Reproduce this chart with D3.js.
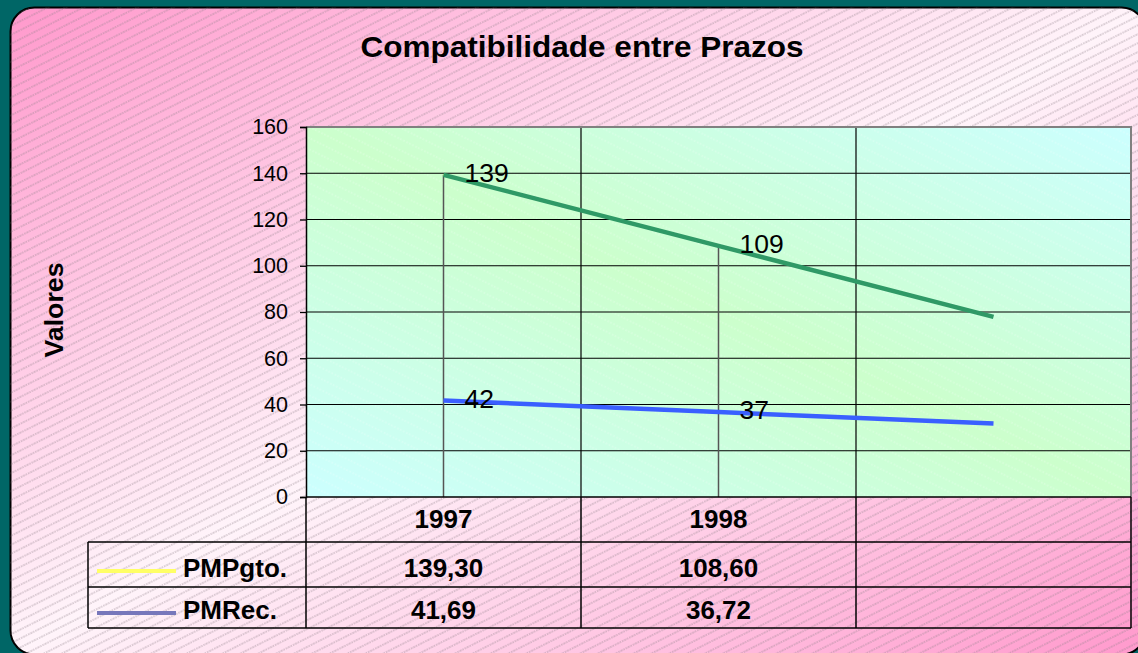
<!DOCTYPE html>
<html><head><meta charset="utf-8">
<script src="https://cdn.jsdelivr.net/npm/d3@7"></script>
<style>
html,body{margin:0;padding:0;background:#006666;}
svg{display:block;font-family:"Liberation Sans",Arial,sans-serif;}
</style></head>
<body>
<svg id="chart" width="1138" height="653"></svg>
<script>
const title = "Compatibilidade entre Prazos";
const yTitle = "Valores";
const categories = ["1997", "1998", ""];
const seriesNames = ["PMPgto.", "PMRec."];
const pmpgto = [139.30, 108.60];
const pmrec = [41.69, 36.72];
const pmpgtoText = ["139,30", "108,60"];
const pmrecText = ["41,69", "36,72"];
const pmpgtoLabels = ["139", "109"];
const pmrecLabels = ["42", "37"];
const yTicks = [0, 20, 40, 60, 80, 100, 120, 140, 160];

(function(){
const svg = d3.select("#chart");
const W = 1138, H = 653;
const defs = svg.append("defs");

const g1 = defs.append("linearGradient").attr("id","pinkGrad")
  .attr("x1",0).attr("y1",0).attr("x2",1).attr("y2",1);
g1.append("stop").attr("offset","0").attr("stop-color","#ff99cc");
g1.append("stop").attr("offset","0.5").attr("stop-color","#fff4fa");
g1.append("stop").attr("offset","1").attr("stop-color","#ff99cc");

const g2 = defs.append("linearGradient").attr("id","plotGrad")
  .attr("x1",0).attr("y1",1).attr("x2",1).attr("y2",0);
g2.append("stop").attr("offset","0").attr("stop-color","#ccffff");
g2.append("stop").attr("offset","0.5").attr("stop-color","#ccffcc");
g2.append("stop").attr("offset","1").attr("stop-color","#ccffff");

const hatch = defs.append("pattern").attr("id","hatch")
  .attr("patternUnits","userSpaceOnUse").attr("width",8).attr("height",8)
  .attr("patternTransform","rotate(-26.6)");
hatch.append("line").attr("x1",0).attr("x2",8).attr("y1",4).attr("y2",4)
  .attr("stroke","#8f8088").attr("stroke-width",0.7).attr("stroke-dasharray","1.5,1");

const hatch2 = defs.append("pattern").attr("id","hatch2")
  .attr("patternUnits","userSpaceOnUse").attr("width",10).attr("height",10)
  .attr("patternTransform","rotate(26.6)");
hatch2.append("line").attr("x1",0).attr("x2",10).attr("y1",5).attr("y2",5)
  .attr("stroke","#ffffff").attr("stroke-width",0.8).attr("stroke-dasharray","1.5,2").attr("opacity",0.5);

svg.append("rect").attr("width",W).attr("height",H).attr("fill","#006666");
svg.append("rect").attr("x",10.5).attr("y",7.5).attr("width",1135).attr("height",647)
  .attr("rx",24).attr("fill","url(#pinkGrad)").attr("stroke","#000").attr("stroke-width",2);
svg.append("rect").attr("x",10.5).attr("y",7.5).attr("width",1135).attr("height",647)
  .attr("rx",24).attr("fill","url(#hatch)");

const pLeft = 306, pRight = 1131, pTop = 127, pBottom = 497;
const x = d3.scaleBand().domain(categories).range([pLeft, pRight]).padding(0);
const cx = c => x(c) + x.bandwidth()/2;
const y = d3.scaleLinear().domain([0,160]).range([pBottom, pTop]);

svg.append("rect").attr("x",pLeft).attr("y",pTop).attr("width",pRight-pLeft).attr("height",pBottom-pTop)
  .attr("fill","url(#plotGrad)");
svg.append("rect").attr("x",pLeft).attr("y",pTop).attr("width",pRight-pLeft).attr("height",pBottom-pTop)
  .attr("fill","url(#hatch2)");

svg.append("g").selectAll("line").data(yTicks.filter(d=>d>0 && d<160)).join("line")
  .attr("x1",pLeft).attr("x2",pRight).attr("y1",d=>y(d)).attr("y2",d=>y(d))
  .attr("stroke","#000").attr("stroke-width",1.2);
svg.append("g").selectAll("line").data(categories.slice(1)).join("line")
  .attr("x1",d=>x(d)).attr("x2",d=>x(d)).attr("y1",pTop).attr("y2",pBottom)
  .attr("stroke","#000").attr("stroke-width",1.2);
svg.append("path").attr("d",`M${pLeft},${pTop}H${pRight}V${pBottom}`)
  .attr("fill","none").attr("stroke","#808080").attr("stroke-width",2);

const yAxis = d3.axisLeft(y).tickValues(yTicks).tickSize(6).tickPadding(12);
const ya = svg.append("g").attr("transform",`translate(${pLeft},0)`).call(yAxis);
ya.select(".domain").attr("stroke","#000").attr("stroke-width",1.5);
ya.selectAll(".tick line").attr("stroke","#000").attr("stroke-width",1.3);
ya.selectAll(".tick text").attr("font-size",21.5).attr("fill","#000")
  .attr("font-family","'Liberation Sans',Arial,sans-serif");

const maxVals = pmpgto.map((v,i)=>Math.max(v, pmrec[i]));
svg.append("g").selectAll("line").data(maxVals).join("line")
  .attr("x1",(d,i)=>cx(categories[i])).attr("x2",(d,i)=>cx(categories[i]))
  .attr("y1",d=>y(d)).attr("y2",pBottom)
  .attr("stroke","#555").attr("stroke-width",1.5);

const line = d3.line().x((d,i)=>cx(categories[i])).y(d=>y(d));
svg.append("path").datum(pmpgto).attr("d",line).attr("fill","none")
  .attr("stroke","#ffff66").attr("stroke-width",2.5);
svg.append("path").datum(pmrec).attr("d",line).attr("fill","none")
  .attr("stroke","#7777bb").attr("stroke-width",2.5);

function trend(vals, n) {
  const xs = vals.map((v,i)=>i+1);
  const mx = d3.mean(xs), my = d3.mean(vals);
  const b = d3.sum(xs.map((xx,i)=>(xx-mx)*(vals[i]-my))) / d3.sum(xs.map(xx=>(xx-mx)**2));
  const a = my - b*mx;
  return d3.range(n).map(i => a + b*(i+1));
}
svg.append("path").datum(trend(pmpgto, 3)).attr("d",line).attr("fill","none")
  .attr("stroke","#2f9966").attr("stroke-width",4.5);
svg.append("path").datum(trend(pmrec, 3)).attr("d",line).attr("fill","none")
  .attr("stroke","#3a5fff").attr("stroke-width",4.5);

function labels(vals, txt) {
  svg.append("g").selectAll("text").data(vals).join("text")
    .attr("x",(d,i)=>cx(categories[i])+21).attr("y",d=>y(d)+7)
    .attr("font-size",26.5).attr("fill","#000").text((d,i)=>txt[i]);
}
labels(pmpgto, pmpgtoLabels);
labels(pmrec, pmrecLabels);

svg.append("text").attr("x",582).attr("y",57).attr("text-anchor","middle")
  .attr("font-size",30).attr("font-weight","bold").attr("fill","#000")
  .attr("textLength",443).attr("lengthAdjust","spacingAndGlyphs").text(title);
svg.append("text").attr("transform","translate(63,310) rotate(-90)").attr("text-anchor","middle")
  .attr("font-size",26).attr("font-weight","bold").attr("fill","#000")
  .attr("textLength",95).attr("lengthAdjust","spacingAndGlyphs").text(yTitle);

const rowY = [497, 542, 587, 628];
const tableLeft = 88;
const tg = svg.append("g").attr("stroke","#000").attr("stroke-width",1.5);
tg.append("line").attr("x1",pLeft).attr("x2",pRight).attr("y1",pBottom).attr("y2",pBottom);
rowY.slice(1).forEach(yy => tg.append("line").attr("x1",tableLeft).attr("x2",pRight).attr("y1",yy).attr("y2",yy));
tg.append("line").attr("x1",tableLeft).attr("x2",tableLeft).attr("y1",rowY[1]).attr("y2",rowY[3]);
categories.forEach(c => tg.append("line").attr("x1",x(c)).attr("x2",x(c)).attr("y1",pBottom).attr("y2",rowY[3]));
tg.append("line").attr("x1",pRight).attr("x2",pRight).attr("y1",pBottom).attr("y2",rowY[3]);

const tfs = 26;
svg.append("g").selectAll("text").data(categories).join("text")
  .attr("x",d=>cx(d)).attr("y",528).attr("text-anchor","middle")
  .attr("font-size",tfs).attr("font-weight","bold").attr("fill","#000").text(d=>d);
const rows = [pmpgtoText, pmrecText];
const rowBase = [577, 619];
const legendColors = ["#ffff66", "#7777bb"];
rows.forEach((r, ri) => {
  svg.append("g").selectAll("text").data(r).join("text")
    .attr("x",(d,i)=>cx(categories[i])).attr("y",rowBase[ri]).attr("text-anchor","middle")
    .attr("font-size",tfs).attr("font-weight","bold").attr("fill","#000").text(d=>d);
  svg.append("line").attr("x1",97).attr("x2",176).attr("y1",rowBase[ri]-6).attr("y2",rowBase[ri]-6)
    .attr("stroke",legendColors[ri]).attr("stroke-width",4);
  svg.append("text").attr("x",183).attr("y",rowBase[ri])
    .attr("font-size",tfs).attr("font-weight","bold").attr("fill","#000").text(seriesNames[ri]);
});
})();
</script>
</body></html>
